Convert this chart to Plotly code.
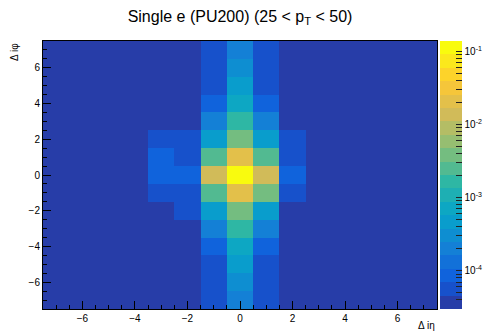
import numpy as np
import plotly.graph_objects as go

# ---------------- data ----------------
d_ieta = [-7, -6, -5, -4, -3, -2, -1, 0, 1, 2, 3, 4, 5, 6, 7]
d_iphi = [-7, -6, -5, -4, -3, -2, -1, 0, 1, 2, 3, 4, 5, 6, 7]

# normalised occupancy, rows = d_iphi (bottom -> top), columns = d_ieta (left -> right)
occupancy = [
    [3.7e-5, 3.7e-5, 3.7e-5, 3.7e-5, 3.7e-5, 3.7e-5, 5.7e-5, 2.0e-4, 5.7e-5, 3.7e-5, 3.7e-5, 3.7e-5, 3.7e-5, 3.7e-5, 3.7e-5],
    [3.7e-5, 3.7e-5, 3.7e-5, 3.7e-5, 3.7e-5, 3.7e-5, 5.7e-5, 3.1e-4, 5.7e-5, 3.7e-5, 3.7e-5, 3.7e-5, 3.7e-5, 3.7e-5, 3.7e-5],
    [3.7e-5, 3.7e-5, 3.7e-5, 3.7e-5, 3.7e-5, 3.7e-5, 5.7e-5, 4.7e-4, 5.7e-5, 3.7e-5, 3.7e-5, 3.7e-5, 3.7e-5, 3.7e-5, 3.7e-5],
    [3.7e-5, 3.7e-5, 3.7e-5, 3.7e-5, 3.7e-5, 3.7e-5, 8.7e-5, 7.1e-4, 8.7e-5, 3.7e-5, 3.7e-5, 3.7e-5, 3.7e-5, 3.7e-5, 3.7e-5],
    [3.7e-5, 3.7e-5, 3.7e-5, 3.7e-5, 3.7e-5, 3.7e-5, 2.0e-4, 1.65e-3, 2.0e-4, 3.7e-5, 3.7e-5, 3.7e-5, 3.7e-5, 3.7e-5, 3.7e-5],
    [3.7e-5, 3.7e-5, 3.7e-5, 3.7e-5, 3.7e-5, 5.7e-5, 4.7e-4, 3.8e-3, 4.7e-4, 3.7e-5, 3.7e-5, 3.7e-5, 3.7e-5, 3.7e-5, 3.7e-5],
    [3.7e-5, 3.7e-5, 3.7e-5, 3.7e-5, 5.7e-5, 5.7e-5, 2.5e-3, 2.1e-2, 3.8e-3, 5.7e-5, 3.7e-5, 3.7e-5, 3.7e-5, 3.7e-5, 3.7e-5],
    [3.7e-5, 3.7e-5, 3.7e-5, 3.7e-5, 8.7e-5, 8.7e-5, 1.35e-2, 0.12, 1.35e-2, 8.7e-5, 3.7e-5, 3.7e-5, 3.7e-5, 3.7e-5, 3.7e-5],
    [3.7e-5, 3.7e-5, 3.7e-5, 3.7e-5, 8.7e-5, 5.7e-5, 2.5e-3, 2.1e-2, 2.5e-3, 5.7e-5, 3.7e-5, 3.7e-5, 3.7e-5, 3.7e-5, 3.7e-5],
    [3.7e-5, 3.7e-5, 3.7e-5, 3.7e-5, 5.7e-5, 5.7e-5, 4.7e-4, 3.8e-3, 4.7e-4, 5.7e-5, 3.7e-5, 3.7e-5, 3.7e-5, 3.7e-5, 3.7e-5],
    [3.7e-5, 3.7e-5, 3.7e-5, 3.7e-5, 3.7e-5, 3.7e-5, 2.0e-4, 1.65e-3, 2.0e-4, 3.7e-5, 3.7e-5, 3.7e-5, 3.7e-5, 3.7e-5, 3.7e-5],
    [3.7e-5, 3.7e-5, 3.7e-5, 3.7e-5, 3.7e-5, 3.7e-5, 8.7e-5, 7.1e-4, 8.7e-5, 3.7e-5, 3.7e-5, 3.7e-5, 3.7e-5, 3.7e-5, 3.7e-5],
    [3.7e-5, 3.7e-5, 3.7e-5, 3.7e-5, 3.7e-5, 3.7e-5, 5.7e-5, 4.7e-4, 5.7e-5, 3.7e-5, 3.7e-5, 3.7e-5, 3.7e-5, 3.7e-5, 3.7e-5],
    [3.7e-5, 3.7e-5, 3.7e-5, 3.7e-5, 3.7e-5, 3.7e-5, 5.7e-5, 3.1e-4, 5.7e-5, 3.7e-5, 3.7e-5, 3.7e-5, 3.7e-5, 3.7e-5, 3.7e-5],
    [3.7e-5, 3.7e-5, 3.7e-5, 3.7e-5, 3.7e-5, 3.7e-5, 5.7e-5, 2.0e-4, 5.7e-5, 3.7e-5, 3.7e-5, 3.7e-5, 3.7e-5, 3.7e-5, 3.7e-5],
]

z_min = 3.0e-5     # colour-axis range
z_max = 0.138
n_contours = 20
cbar_major = [1e-4, 1e-3, 1e-2, 1e-1]
cbar_labels = ["10<sup>-4</sup>", "10<sup>-3</sup>", "10<sup>-2</sup>", "10<sup>-1</sup>"]

# ---------------- ROOT kBird palette, 20 discrete contours ----------------
bird_stops = [0.0, 0.125, 0.25, 0.375, 0.5, 0.625, 0.75, 0.875, 1.0]
bird_r = [0.2082, 0.0592, 0.0780, 0.0232, 0.1802, 0.5301, 0.8186, 0.9956, 0.9764]
bird_g = [0.1664, 0.3599, 0.5041, 0.6419, 0.7178, 0.7492, 0.7328, 0.7862, 0.9832]
bird_b = [0.5293, 0.8684, 0.8385, 0.7914, 0.6425, 0.4662, 0.3499, 0.1968, 0.0539]

colorscale = []
for i in range(n_contours):
    idx = int((i + 0.99) * 255 / n_contours)
    t = idx / 254.0
    r = int(round(255 * np.interp(t, bird_stops, bird_r)))
    g = int(round(255 * np.interp(t, bird_stops, bird_g)))
    b = int(round(255 * np.interp(t, bird_stops, bird_b)))
    c = f"rgb({r},{g},{b})"
    colorscale.append([i / n_contours, c])
    colorscale.append([(i + 1) / n_contours, c])

lmin, lmax = np.log10(z_min), np.log10(z_max)
log_z = np.log10(np.array(occupancy))

# colour bar ticks (major + minor)
tickvals, ticktext = [], []
for dec in range(-5, 0):
    for k in range(1, 10):
        v = np.log10(k * 10.0 ** dec)
        if lmin <= v <= lmax:
            tickvals.append(v)
            label = ""
            if k == 1:
                for mv, ml in zip(cbar_major, cbar_labels):
                    if abs(np.log10(mv) - dec) < 1e-9:
                        label = ml
            ticktext.append(label)

FONT = "Liberation Sans, Arial, Helvetica, sans-serif"

fig = go.Figure(go.Heatmap(
    x=d_ieta, y=d_iphi, z=log_z,
    zmin=lmin, zmax=lmax, colorscale=colorscale,
    hoverinfo="skip",
    colorbar=dict(
        xref="container", x=440 / 486, xanchor="left", xpad=0,
        yref="paper", y=0, yanchor="bottom", len=1, lenmode="fraction", ypad=0,
        thickness=22, outlinewidth=0,
        tickmode="array", tickvals=tickvals, ticktext=ticktext,
        ticks="inside", ticklen=6, tickcolor="#222", tickwidth=1,
        tickfont=dict(family=FONT, size=10, color="black"),
    ),
))

# longer major ticks on the colour bar
W, L, R = 486, 43, 49
pw = W - L - R
cb_right = (462 - L) / pw
cb_tick = (451 - L) / pw
for v in cbar_major:
    yv = (np.log10(v) - lmin) / (lmax - lmin)
    fig.add_shape(type="line", xref="paper", yref="paper",
                  x0=cb_tick, x1=cb_right, y0=yv, y1=yv,
                  line=dict(color="#222", width=1))

axis_common = dict(
    range=[-7.5, 7.5], tick0=0, dtick=2, ticks="inside", ticklen=8,
    tickcolor="black", tickwidth=1, showgrid=False, zeroline=False,
    showline=True, linecolor="black", linewidth=1, mirror=True,
    tickfont=dict(family=FONT, size=10, color="black"),
    minor=dict(dtick=0.5, tick0=0, ticks="inside", ticklen=4, tickcolor="black", showgrid=False),
)

fig.update_layout(
    width=486, height=332,
    margin=dict(l=L, r=R, t=41, b=23, autoexpand=False),
    paper_bgcolor="white", plot_bgcolor="white",
    title=dict(text="Single e (PU200) (25 < p<sub>T</sub> < 50)",
               x=240 / 486, xanchor="center", y=1 - 16 / 332, yanchor="middle",
               font=dict(family=FONT, size=16, color="black")),
    xaxis=dict(**axis_common),
    yaxis=dict(**axis_common),
    annotations=[
        dict(text="Δ iη", xref="paper", yref="paper", x=1, y=0,
             xanchor="right", yanchor="top", yshift=-9, showarrow=False,
             font=dict(family=FONT, size=10, color="black")),
        dict(text="Δ iφ", xref="paper", yref="paper", x=0, y=1,
             xanchor="center", yanchor="top", xshift=-29, textangle=-90, showarrow=False,
             font=dict(family=FONT, size=10, color="black")),
    ],
)

fig.write_html(
    "out.html",
    config={"displayModeBar": False},
    post_script="document.body.style.margin='0';document.body.style.overflow='hidden';",
)
